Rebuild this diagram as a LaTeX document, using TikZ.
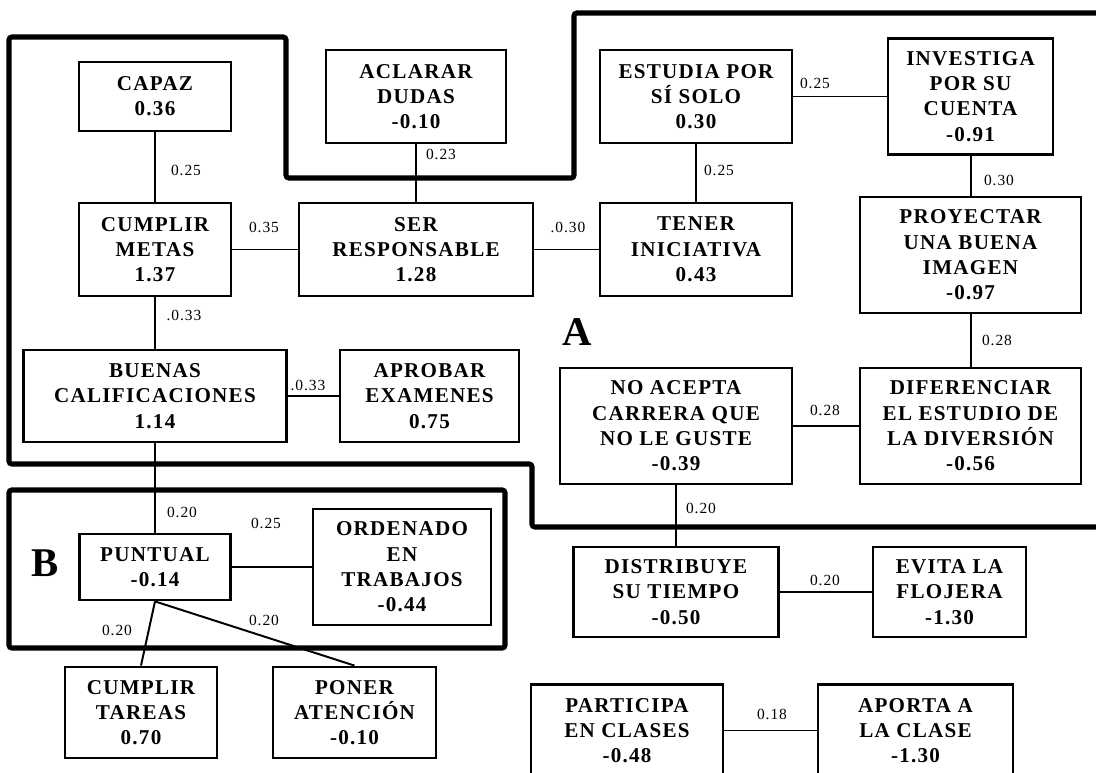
\documentclass[tikz,border=0pt]{standalone}
\usepackage{fontspec}
\setmainfont{Liberation Serif}
\newfontfamily\boxfont[LetterSpace=6]{Liberation Serif}

\begin{document}
\begin{tikzpicture}[%
    x=0.025cm, y=-0.025cm,     % one unit = one pixel of the scan
    ]
% -------------------------------------------------
% Styles
\tikzset{
  base/.style={draw, fill=white, line width=2pt, align=center, inner sep=0pt,
    font=\boxfont\bfseries\fontsize{15}{18}\selectfont},
  box/.style 2 args={base, minimum width=#1*0.025cm, minimum height=#2*0.025cm},
  % weights on the links
  wt/.style={font=\boxfont\fontsize{11}{13}\selectfont, inner sep=1pt},
  link/.style={draw, line width=1.4pt},
  % the two framed groups
  zone/.style={draw, line width=3.6pt, rounded corners=2pt},
  tag/.style={font=\bfseries\fontsize{29}{33}\selectfont, inner sep=0pt},
}
\useasboundingbox (0,0) rectangle (1096,773);
% -------------------------------------------------
% Group frames
\draw [zone] (1120,13) -- (574,13) -- (574,178) -- (286,178) -- (286,37)
  -- (9,37) -- (9,464) -- (532,464) -- (532,527) -- (1120,527);
\draw [zone] (9,490) rectangle (505,648);
\node [tag] (tagA) at (577,332) {A};
\node [tag] (tagB) at (45,563) {B};
% -------------------------------------------------
% Boxes
\node [box={152}{69}]  (capaz)      at (155,96.5)   {CAPAZ\\0.36};
\node [box={180}{93}]  (aclarar)    at (416,96.5)   {ACLARAR\\DUDAS\\-0.10};
\node [box={192}{93}]  (estudia)    at (696,96.5)   {ESTUDIA POR\\SÍ SOLO\\0.30};
\node [box={165}{116}] (investiga)  at (970.5,96.5) {INVESTIGA\\POR SU\\CUENTA\\-0.91};
\node [box={152}{93}]  (cumplir)    at (155,249.5)  {CUMPLIR\\METAS\\1.37};
\node [box={234}{93}]  (ser)        at (416,249.5)  {SER\\RESPONSABLE\\1.28};
\node [box={192}{93}]  (tener)      at (696,249.5)  {TENER\\INICIATIVA\\0.43};
\node [box={221}{116}] (proyectar)  at (970.5,255)  {PROYECTAR\\UNA BUENA\\IMAGEN\\-0.97};
\node [box={263}{92}]  (buenas)     at (155,396)    {BUENAS\\CALIFICACIONES\\1.14};
\node [box={179}{92}]  (aprobar)    at (429.5,396)  {APROBAR\\EXAMENES\\0.75};
\node [box={232}{116}] (noacepta)   at (676,426)    {NO ACEPTA\\CARRERA QUE\\NO LE GUSTE\\-0.39};
\node [box={221}{116}] (diferenciar) at (970.5,426) {DIFERENCIAR\\EL ESTUDIO DE\\LA DIVERSIÓN\\-0.56};
\node [box={151}{66}]  (puntual)    at (155,567)    {PUNTUAL\\-0.14};
\node [box={178}{116}] (ordenado)   at (402,567)    {ORDENADO\\EN\\TRABAJOS\\-0.44};
\node [box={152}{91}]  (tareas)     at (141,712.5)  {CUMPLIR\\TAREAS\\0.70};
\node [box={163}{91}]  (poner)      at (354.5,712.5) {PONER\\ATENCIÓN\\-0.10};
\node [box={205}{90}]  (distribuye) at (676,592)    {DISTRIBUYE\\SU TIEMPO\\-0.50};
\node [box={153}{90}]  (evita)      at (949.5,592)  {EVITA LA\\FLOJERA\\-1.30};
\node [box={192}{92}]  (participa)  at (627,730.5)  {PARTICIPA\\EN CLASES\\-0.48};
\node [box={195}{92}]  (aporta)     at (915.5,730.5) {APORTA A\\LA CLASE\\-1.30};
% -------------------------------------------------
% Links
\draw [link] (capaz) -- (cumplir);
\draw [link] (aclarar) -- (ser);
\draw [link] (cumplir) -- (ser);
\draw [link] (ser) -- (tener);
\draw [link] (estudia) -- (tener);
\draw [link] (estudia) -- (investiga);
\draw [link] (investiga) -- (proyectar);
\draw [link] (proyectar) -- (diferenciar);
\draw [link] (noacepta) -- (diferenciar);
\draw [link] (cumplir) -- (buenas);
\draw [link] (buenas) -- (aprobar);
\draw [link] (buenas) -- (puntual);
\draw [link] (puntual) -- (ordenado);
\draw [link] (puntual.south) -- (tareas.north);
\draw [link] (puntual.south) -- (poner.north);
\draw [link] (noacepta) -- (distribuye);
\draw [link] (distribuye) -- (evita);
\draw [link] (participa) -- (aporta);
% -------------------------------------------------
% Weights
\node [wt] (w1)  at (186,170) {0.25};
\node [wt] (w2)  at (441,154) {0.23};
\node [wt] (w3)  at (815,83)  {0.25};
\node [wt] (w4)  at (719,170) {0.25};
\node [wt] (w5)  at (999,180) {0.30};
\node [wt] (w6)  at (264,227) {0.35};
\node [wt] (w7)  at (568,227) {.0.30};
\node [wt] (w8)  at (184,315) {.0.33};
\node [wt] (w9)  at (308,385) {.0.33};
\node [wt] (w10) at (997,340) {0.28};
\node [wt] (w11) at (825,410) {0.28};
\node [wt] (w12) at (701,508) {0.20};
\node [wt] (w13) at (182,512) {0.20};
\node [wt] (w14) at (266,523) {0.25};
\node [wt] (w15) at (117,630) {0.20};
\node [wt] (w16) at (264,620) {0.20};
\node [wt] (w17) at (825,580) {0.20};
\node [wt] (w18) at (772,714) {0.18};
\end{tikzpicture}
\end{document}
